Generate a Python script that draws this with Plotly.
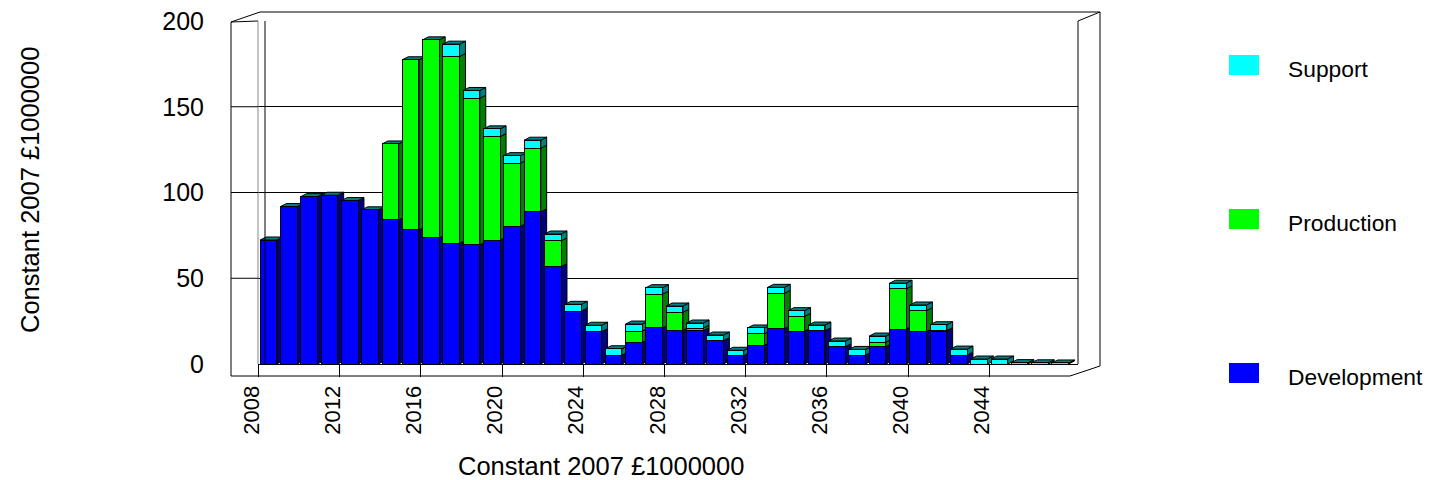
import plotly.graph_objects as go

# ---------------- data ----------------
years = list(range(2008, 2048))
development = [72.3, 91.8, 97.6, 98.4, 95.3, 89.9, 84.0, 78.2, 73.7, 70.4,
               69.4, 72.3, 80.3, 88.7, 56.8, 30.9, 18.9, 5.2, 12.6, 21.0,
               19.6, 19.4, 13.6, 4.9, 10.9, 20.6, 19.2, 19.4, 10.1, 5.2,
               10.1, 20.4, 18.9, 18.9, 5.2, 0.0, 0.0, 0.0, 0.0, 0.0]
production = [0.0, 0.0, 0.0, 0.0, 0.0, 0.0, 44.3, 99.2, 115.3, 108.9,
              85.6, 60.3, 36.8, 37.1, 15.0, 0.0, 0.0, 0.0, 6.6, 19.7,
              10.5, 1.5, 0.0, 0.0, 6.6, 20.6, 8.6, 0.0, 0.0, 0.0,
              2.7, 23.4, 12.2, 0.6, 0.0, 0.0, 0.0, 0.0, 0.0, 0.0]
support = [0.0, 0.0, 0.0, 0.0, 0.0, 0.0, 0.0, 0.0, 0.0, 7.2,
           4.5, 4.5, 4.4, 4.7, 4.0, 3.9, 3.7, 3.7, 4.1, 3.8,
           3.7, 3.0, 3.3, 3.1, 3.5, 3.5, 3.3, 3.3, 3.3, 3.3,
           3.5, 3.3, 3.3, 3.4, 3.5, 2.9, 2.9, 0.8, 0.7, 0.6]
series_names = ["Development", "Production", "Support"]
series_values = [development, production, support]
y_ticks = [0, 50, 100, 150, 200]
x_tick_years = list(range(2008, 2045, 4))
axis_title = "Constant 2007 £1000000"

# ---------------- style ----------------
front_colors = ["#0000FF", "#00FF00", "#00FFFF"]
side_colors = ["#000080", "#008000", "#008080"]
top_color = "#008080"
FONT = "Liberation Sans, Arial, sans-serif"

PAGE_OFF = 8                # default body margin of the html page
FIG_W, FIG_H = 1433 - PAGE_OFF, 480 - PAGE_OFF
X0, X1 = 258, 1078          # plot area, in screenshot pixels
Y0, Y1 = 21, 364
W, H = X1 - X0, Y1 - Y0
PITCH = 20.3                # px per year
XMIN = 2007.48
XMAX = XMIN + W / PITCH
BAR_W = 0.82
DX = 0.29                   # depth offset in years
DY = 1.75                   # depth offset in value units


def pxx(x):
    return (x - X0) / W


def pyy(y):
    return (Y1 - y) / H


fig = go.Figure()
for name, vals, col in zip(series_names, series_values, front_colors):
    fig.add_trace(go.Bar(
        x=years, y=vals, name=name, width=BAR_W,
        marker=dict(color=col, line=dict(color="black", width=1)),
        showlegend=False, hoverinfo="x+y+name",
    ))

shapes = []
# 3D side and top faces, computed from the data
for i, yr in enumerate(years):
    xl = yr - BAR_W / 2
    xr = yr + BAR_W / 2
    base = 0.0
    for vals, scol in zip(series_values, side_colors):
        v = vals[i]
        if v > 0:
            t = base + v
            shapes.append(dict(
                type="path", xref="x", yref="y", layer="between",
                path=f"M {xr},{base} L {xr+DX},{base+DY} L {xr+DX},{t+DY} L {xr},{t} Z",
                fillcolor=scol, line=dict(color="black", width=1)))
            base = t
    shapes.append(dict(
        type="path", xref="x", yref="y", layer="between",
        path=f"M {xl},{base} L {xl+DX},{base+DY} L {xr+DX},{base+DY} L {xr},{base} Z",
        fillcolor=top_color, line=dict(color="black", width=1)))

# frame of the 3D box (decorative)
def pline(x0, y0, x1, y1, color="black", width=1):
    shapes.append(dict(type="line", xref="paper", yref="paper",
                       x0=pxx(x0), y0=pyy(y0), x1=pxx(x1), y1=pyy(y1),
                       line=dict(color=color, width=width), layer="above"))

pline(231, 22, 231, 376)            # front left
pline(231, 376, 1070, 376)          # front floor
pline(1070, 376, 1100, 366)         # floor right diagonal
pline(1100, 366, 1100, 12)          # outer right
pline(231, 22, 260, 12)             # top left diagonal
pline(260, 12, 1100, 12)            # top
pline(1078, 21, 1100, 12)           # top right diagonal
pline(231, 22, 258, 21)
pline(1078, 21, 1078, 364)          # back wall right
pline(258, 21, 258, 364, color="#888888")
pline(265, 21, 265, 364)
for v in y_ticks[1:-1]:
    shapes.append(dict(type="line", xref="paper", yref="y",
                       x0=pxx(231), x1=pxx(258), y0=v, y1=v,
                       line=dict(color="black", width=1), layer="above"))

# legend (custom, to match large swatches and spacing)
annotations = []
for k, (name, col) in enumerate(zip(series_names, front_colors)):
    cy = 373 - 154 * k
    shapes.append(dict(type="rect", xref="paper", yref="paper",
                       x0=pxx(1229), x1=pxx(1259), y0=pyy(cy + 10), y1=pyy(cy - 10),
                       fillcolor=col, line=dict(width=0), layer="above"))
    annotations.append(dict(x=pxx(1286), y=pyy(cy + 4), xref="paper", yref="paper",
                            text=name, showarrow=False, xanchor="left", yanchor="middle",
                            font=dict(size=22.8, family=FONT, color="black")))

annotations.append(dict(x=pxx(30), y=pyy(190), xref="paper", yref="paper",
                        text=axis_title, showarrow=False, textangle=-90,
                        xanchor="center", yanchor="middle",
                        font=dict(size=25.5, family=FONT, color="black")))
annotations.append(dict(x=pxx(601), y=pyy(466), xref="paper", yref="paper",
                        text=axis_title, showarrow=False,
                        xanchor="center", yanchor="middle",
                        font=dict(size=25.5, family=FONT, color="black")))

fig.update_layout(
    width=FIG_W, height=FIG_H,
    margin=dict(l=X0 - PAGE_OFF, r=FIG_W - (X1 - PAGE_OFF),
                t=Y0 - PAGE_OFF, b=FIG_H - (Y1 - PAGE_OFF), autoexpand=False),
    paper_bgcolor="white", plot_bgcolor="white",
    barmode="stack",
    shapes=shapes, annotations=annotations,
    showlegend=False,
    font=dict(family=FONT, color="black", size=22),
    xaxis=dict(range=[XMIN, XMAX], tickmode="array",
               tickvals=[y - 0.5 for y in x_tick_years],
               ticktext=[str(y) for y in x_tick_years],
               tickangle=-90, ticks="outside", ticklen=12, tickcolor="black",
               ticklabelshift=-7, ticklabelstandoff=0,
               ticklabeloverflow="allow",
               tickfont=dict(size=22, family=FONT, color="black"),
               showline=True, linecolor="black", linewidth=1,
               showgrid=False, zeroline=False),
    yaxis=dict(range=[0, 200], tickmode="array", tickvals=y_ticks,
               ticks="", ticklabelstandoff=53, ticklabeloverflow="allow",
               tickfont=dict(size=25, family=FONT, color="black"),
               showgrid=True, gridcolor="black", gridwidth=1,
               showline=False, zeroline=False),
)

fig.write_html("out.html")
